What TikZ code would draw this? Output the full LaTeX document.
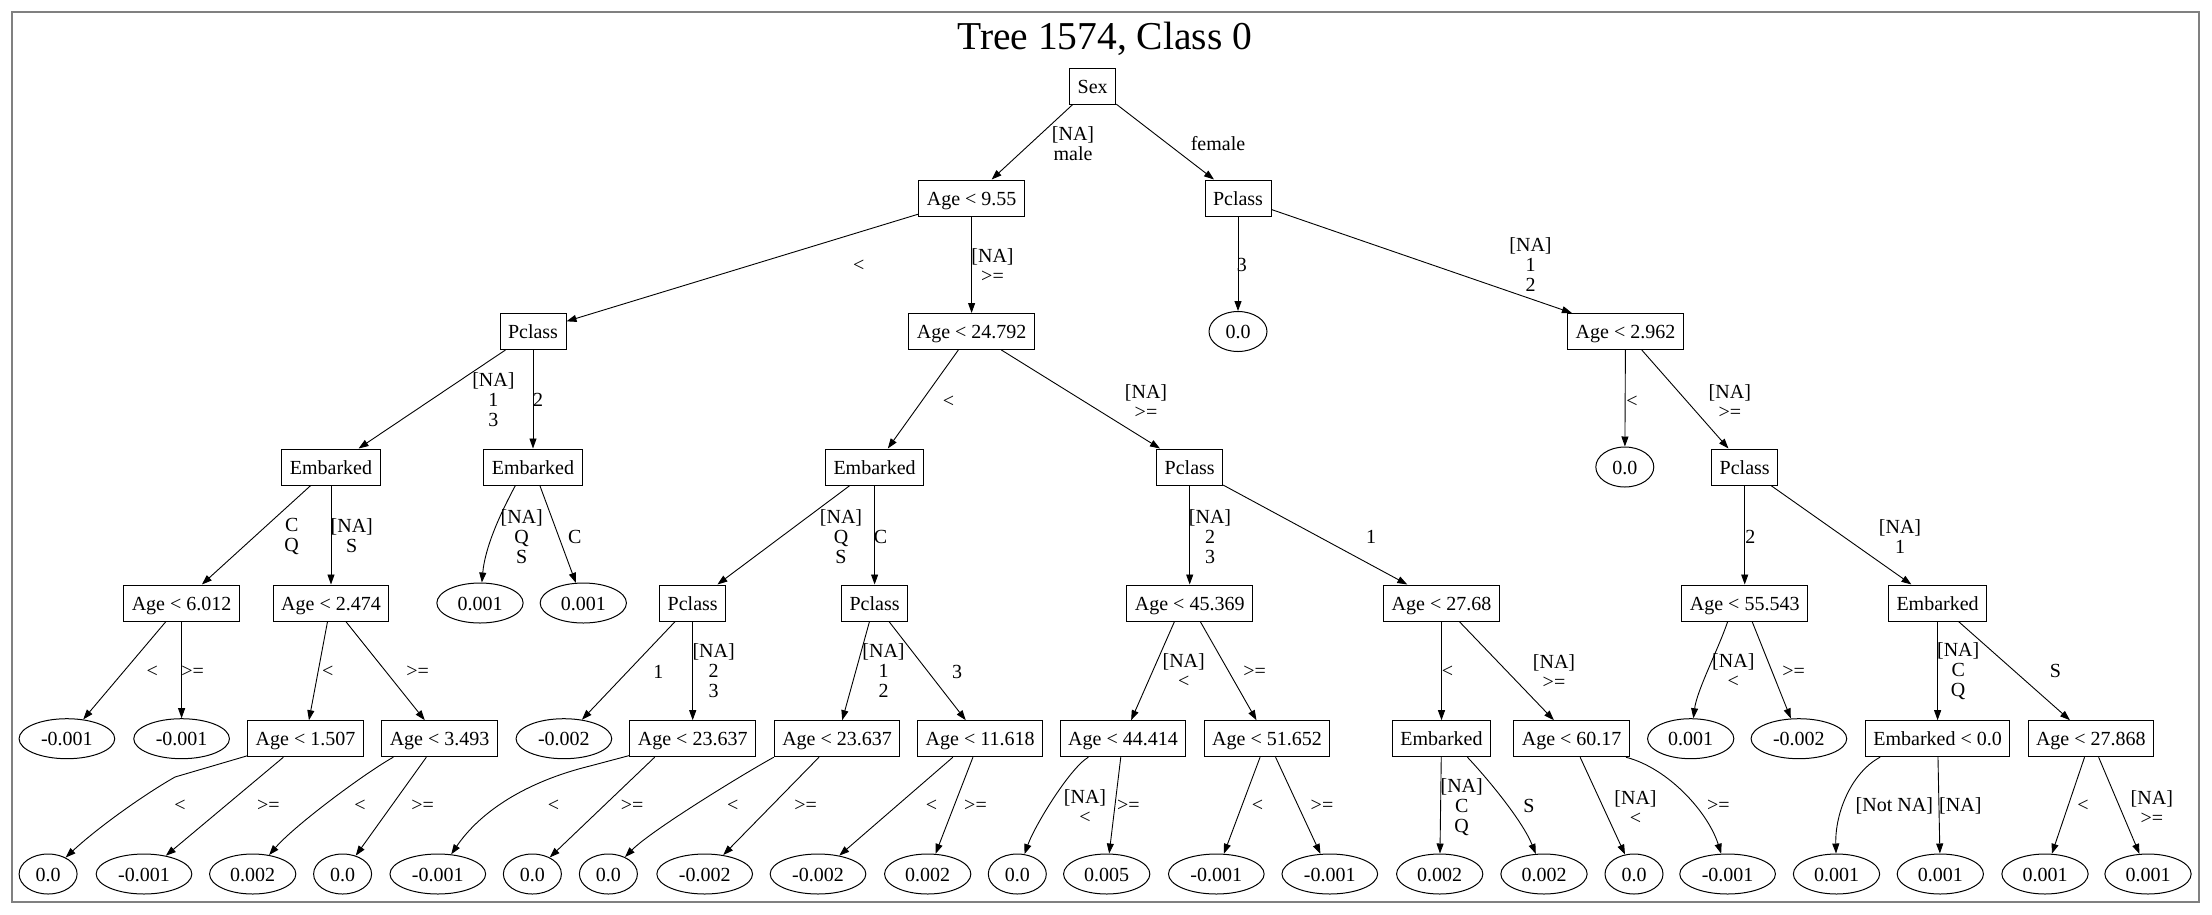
\documentclass[tikz,border=0pt]{standalone}
\usepackage{fontspec}
\setmainfont{Liberation Serif}
\usetikzlibrary{arrows.meta,shapes.geometric}
\definecolor{framegray}{RGB}{128,128,128}
\newcommand{\myfnt}{\fontsize{20}{20}\selectfont}
\begin{document}
\begin{tikzpicture}[x=1pt,y=-1pt,
  tbox/.style={draw,line width=1pt,rectangle,minimum height=36pt,inner xsep=8pt,inner ysep=2pt,text height=17pt,text depth=3pt,font=\myfnt},
  tleaf/.style={draw,line width=1pt,ellipse,minimum height=40pt,inner xsep=8pt,inner ysep=1pt,text height=17pt,text depth=3pt,font=\myfnt},
  elab/.style={inner sep=0pt,align=center,font=\myfnt},
  edge/.style={line width=0.9pt,-{Triangle[length=10pt,width=7pt]}}]
\useasboundingbox (0,0) rectangle (2212,914);
\draw[line width=2pt,color=framegray] (12,12) rectangle (2199,902);
\node[inner sep=0pt,anchor=base,font=\fontsize{39.5}{40}\selectfont] (title) at (1104.8,49.3) {Tree 1574, Class 0};
% row 0
\node[tbox] (sex) at (1092.7,86) {Sex};
% row 1
\node[tbox] (a955) at (971.6,198) {Age < 9.55};
\node[tbox] (p1) at (1238,198) {Pclass};
% row 2
\node[tbox] (p2) at (533,331.5) {Pclass};
\node[tbox] (a24792) at (971.6,331.5) {Age < 24.792};
\node[tleaf] (l1) at (1238,331.5) {0.0};
\node[tbox] (a2962) at (1625.5,331.5) {Age < 2.962};
% row 3
\node[tbox] (e1) at (331,467) {Embarked};
\node[tbox] (e2) at (533,467) {Embarked};
\node[tbox] (e3) at (874.6,467) {Embarked};
\node[tbox] (p3) at (1189.7,467) {Pclass};
\node[tleaf] (l2) at (1624.8,467) {0.0};
\node[tbox] (p4) at (1744.7,467) {Pclass};
% row 4
\node[tbox] (a6012) at (181.6,603) {Age < 6.012};
\node[tbox] (a2474) at (331,603) {Age < 2.474};
\node[tleaf] (l3) at (480,603) {0.001};
\node[tleaf] (l4) at (583.3,603) {0.001};
\node[tbox] (p5) at (692.7,603) {Pclass};
\node[tbox] (p6) at (874.6,603) {Pclass};
\node[tbox] (a45369) at (1189.7,603) {Age < 45.369};
\node[tbox] (a2768) at (1441.5,603) {Age < 27.68};
\node[tbox] (a55543) at (1744.7,603) {Age < 55.543};
\node[tbox] (e4) at (1937.6,603) {Embarked};
% row 5
\node[tleaf] (l5) at (66.9,738.7) {-0.001};
\node[tleaf] (l6) at (181.6,738.7) {-0.001};
\node[tbox] (a1507) at (305.5,738.7) {Age < 1.507};
\node[tbox] (a3493) at (439.6,738.7) {Age < 3.493};
\node[tleaf] (l7) at (563.9,738.7) {-0.002};
\node[tbox] (a23637a) at (692.7,738.7) {Age < 23.637};
\node[tbox] (a23637b) at (837.1,738.7) {Age < 23.637};
\node[tbox] (a11618) at (980.1,738.7) {Age < 11.618};
\node[tbox] (a44414) at (1123,738.7) {Age < 44.414};
\node[tbox] (a51652) at (1267,738.7) {Age < 51.652};
\node[tbox] (e5) at (1441.5,738.7) {Embarked};
\node[tbox] (a6017) at (1571.6,738.7) {Age < 60.17};
\node[tleaf] (l8) at (1690.7,738.7) {0.001};
\node[tleaf] (l9) at (1798.9,738.7) {-0.002};
\node[tbox] (e0) at (1937.6,738.7) {Embarked < 0.0};
\node[tbox] (a27868) at (2090.8,738.7) {Age < 27.868};
% row 6
\node[tleaf] (m1) at (48.1,874) {0.0};
\node[tleaf] (m2) at (144,874) {-0.001};
\node[tleaf] (m3) at (252.7,874) {0.002};
\node[tleaf] (m4) at (342.6,874) {0.0};
\node[tleaf] (m5) at (437.8,874) {-0.001};
\node[tleaf] (m6) at (532.4,874) {0.0};
\node[tleaf] (m7) at (608.4,874) {0.0};
\node[tleaf] (m8) at (704.7,874) {-0.002};
\node[tleaf] (m9) at (818,874) {-0.002};
\node[tleaf] (m10) at (927.7,874) {0.002};
\node[tleaf] (m11) at (1017.3,874) {0.0};
\node[tleaf] (m12) at (1106.7,874) {0.005};
\node[tleaf] (m13) at (1216.3,874) {-0.001};
\node[tleaf] (m14) at (1329.8,874) {-0.001};
\node[tleaf] (m15) at (1439.7,874) {0.002};
\node[tleaf] (m16) at (1544,874) {0.002};
\node[tleaf] (m17) at (1634,874) {0.0};
\node[tleaf] (m18) at (1727.6,874) {-0.001};
\node[tleaf] (m19) at (1836.5,874) {0.001};
\node[tleaf] (m20) at (1940.3,874) {0.001};
\node[tleaf] (m21) at (2045,874) {0.001};
\node[tleaf] (m22) at (2148,874) {0.001};
% edges rows 0-3
\draw[edge] (sex) -- (a955);
\draw[edge] (sex) -- (p1);
\draw[edge] (a955) -- (p2);
\draw[edge] (a955) -- (a24792);
\draw[edge] (p1) -- (l1);
\draw[edge] (p1) -- (a2962);
\draw[edge] (p2) -- (e1);
\draw[edge] (p2) -- (e2);
\draw[edge] (a24792) -- (e3);
\draw[edge] (a24792) -- (p3);
\draw[edge] (a2962) -- (l2);
\draw[edge] (a2962) -- (p4);
% row 3-4
\draw[edge] (e1) -- (a6012);
\draw[edge] (e1) -- (a2474);
\draw[edge] ([xshift=-17.6pt]e2.south) .. controls (499,516) and (485,548) .. (l3);
\draw[edge] (e2) -- (l4);
\draw[edge] (e3) -- (p5);
\draw[edge] (e3) -- (p6);
\draw[edge] (p3) -- (a45369);
\draw[edge] (p3) -- (a2768);
\draw[edge] (p4) -- (a55543);
\draw[edge] (p4) -- (e4);
% row 4-5
\draw[edge] (a6012) -- (l5);
\draw[edge] (a6012) -- (l6);
\draw[edge] (a2474) -- (a1507);
\draw[edge] (a2474) -- (a3493);
\draw[edge] (p5) -- (l7);
\draw[edge] (p5) -- (a23637a);
\draw[edge] (p6) -- (a23637b);
\draw[edge] (p6) -- (a11618);
\draw[edge] ([xshift=-15.2pt]a45369.south) -- (a44414);
\draw[edge] (a45369) -- (a51652);
\draw[edge] (a2768) -- (e5);
\draw[edge] (a2768) -- (a6017);
\draw[edge] ([xshift=-17pt]a55543.south) .. controls (1718,650) and (1697,690) .. (l8);
\draw[edge] (a55543) -- (l9);
\draw[edge] (e4) -- (e0);
\draw[edge] (e4) -- (a27868);
% row 5-6
\draw[edge] (a1507) -- (175,777) .. controls (140,797) and (95,830) .. (m1);
\draw[edge] (a1507) -- (m2);
\draw[edge] ([xshift=-46.3pt]a3493.south) .. controls (365,773) and (295,825) .. (m3);
\draw[edge] (a3493) -- (m4);
\draw[edge] (a23637a) -- (590,766) .. controls (525,782) and (480,812) .. (m5);
\draw[edge] ([xshift=-38pt]a23637a.south) -- (m6);
\draw[edge] (a23637b.south west) .. controls (743.4,773.9) and (651,830.5) .. (m7);
\draw[edge] (a23637b) -- (m8);
\draw[edge] ([xshift=-27.2pt]a11618.south) -- (m9);
\draw[edge] (a11618) -- (m10);
\draw[edge] ([xshift=-34.7pt]a44414.south) .. controls (1070,768) and (1035,825) .. (m11);
\draw[edge] (a44414) -- (m12);
\draw[edge] (a51652) -- (m13);
\draw[edge] (a51652) -- (m14);
\draw[edge] (e5) -- (m15);
\draw[edge] ([xshift=25.9pt]e5.south) .. controls (1487,778) and (1522,820) .. (m16);
\draw[edge] (a6017) -- (m17);
\draw[edge] ([xshift=-4pt]a6017.south east) .. controls (1668,768) and (1708,812) .. (m18);
\draw[edge] ([xshift=-57.5pt]e0.south) .. controls (1852,772) and (1835,812) .. (m19);
\draw[edge] (e0) -- (m20);
\draw[edge] (a27868) -- (m21);
\draw[edge] (a27868) -- (m22);
% edge labels
\node[elab] (t1) at (1073,143.3) {[NA]\\male};
\node[elab] (t2) at (1218,143.3) {female};
\node[elab] (t3) at (858.7,266) {<};
\node[elab] (t4) at (992.5,265.5) {[NA]\\>=};
\node[elab] (t5) at (1241.8,265) {3};
\node[elab] (t6) at (1530.5,265) {[NA]\\1\\2};
\node[elab] (t7) at (493.4,400) {[NA]\\1\\3};
\node[elab] (t8) at (538,400) {2};
\node[elab] (t9) at (948.6,401.7) {<};
\node[elab] (t10) at (1146,401.7) {[NA]\\>=};
\node[elab] (t11) at (1632,401.7) {<};
\node[elab] (t12) at (1729.8,401.7) {[NA]\\>=};
\node[elab] (t13) at (291.7,536) {C\\Q};
\node[elab] (t14) at (351.8,536) {[NA]\\S};
\node[elab] (t15) at (521.7,536.7) {[NA]\\Q\\S};
\node[elab] (t16) at (574.8,536.7) {C};
\node[elab] (t17) at (841,536.7) {[NA]\\Q\\S};
\node[elab] (t18) at (880.6,536.7) {C};
\node[elab] (t19) at (1210,536.7) {[NA]\\2\\3};
\node[elab] (t20) at (1371,536.7) {1};
\node[elab] (t21) at (1750.4,536.7) {2};
\node[elab] (t22) at (1900,536.7) {[NA]\\1};
\node[elab] (t23) at (152.2,671.7) {<};
\node[elab] (t24) at (192.6,671.7) {>=};
\node[elab] (t25) at (327.8,671.7) {<};
\node[elab] (t26) at (417.7,671.7) {>=};
\node[elab] (t27) at (658.4,671.7) {1};
\node[elab] (t28) at (713.6,670.7) {[NA]\\2\\3};
\node[elab] (t29) at (883.5,670.7) {[NA]\\1\\2};
\node[elab] (t30) at (957,671.7) {3};
\node[elab] (t31) at (1183.7,670.7) {[NA]\\<};
\node[elab] (t32) at (1254.6,671.7) {>=};
\node[elab] (t33) at (1447.5,671.7) {<};
\node[elab] (t34) at (1554,671.2) {[NA]\\>=};
\node[elab] (t35) at (1733.3,670.7) {[NA]\\<};
\node[elab] (t36) at (1793.6,671.7) {>=};
\node[elab] (t37) at (1958.2,670.7) {[NA]\\C\\Q};
\node[elab] (t38) at (2055.3,670.7) {S};
\node[elab] (t39) at (180,806) {<};
\node[elab] (t40) at (268.3,806) {>=};
\node[elab] (t41) at (360,806) {<};
\node[elab] (t42) at (422.6,806) {>=};
\node[elab] (t43) at (553.6,806) {<};
\node[elab] (t44) at (632.2,806) {>=};
\node[elab] (t45) at (732.7,806) {<};
\node[elab] (t46) at (805.6,806) {>=};
\node[elab] (t47) at (931.6,806) {<};
\node[elab] (t48) at (975.5,806) {>=};
\node[elab] (t49) at (1085,807) {[NA]\\<};
\node[elab] (t50) at (1128.3,806) {>=};
\node[elab] (t51) at (1257.4,806) {<};
\node[elab] (t52) at (1322,806) {>=};
\node[elab] (t53) at (1461.7,807.3) {[NA]\\C\\Q};
\node[elab] (t54) at (1529,806) {S};
\node[elab] (t55) at (1635.5,807.3) {[NA]\\<};
\node[elab] (t56) at (1718.4,806) {>=};
\node[elab] (t57) at (1894.3,806) {[Not NA]};
\node[elab] (t58) at (1960.3,806) {[NA]};
\node[elab] (t59) at (2083,806) {<};
\node[elab] (t60) at (2151.8,807.3) {[NA]\\>=};
\end{tikzpicture}
\end{document}
